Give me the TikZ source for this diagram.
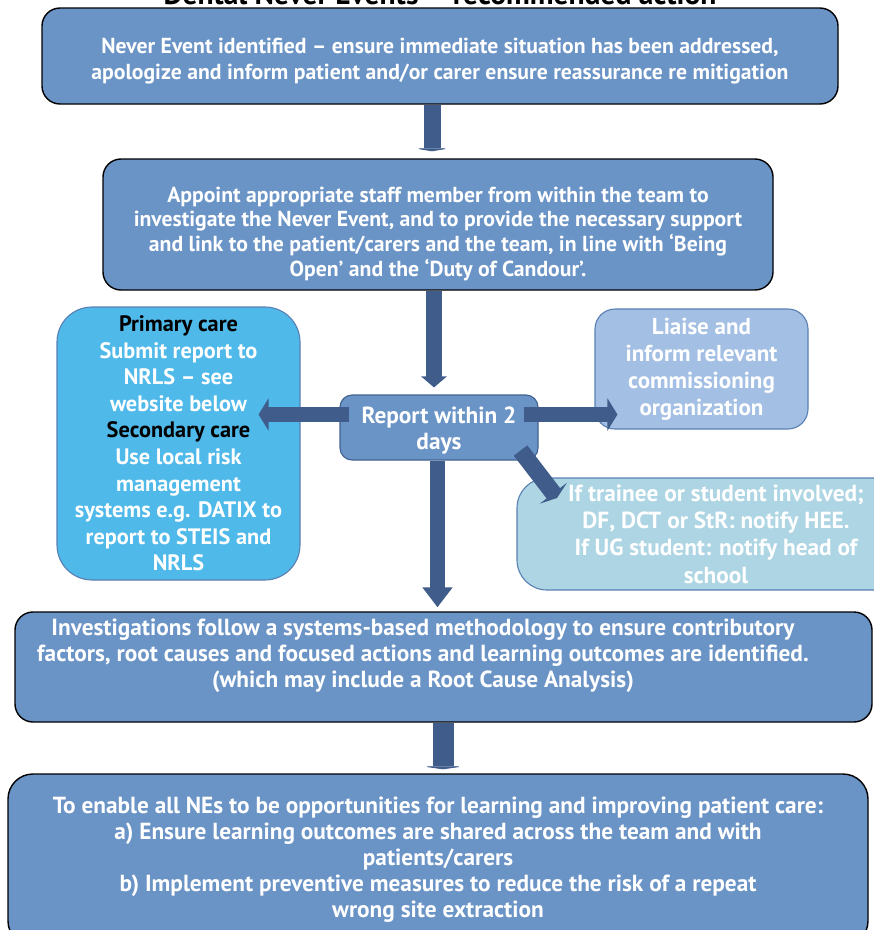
\documentclass[tikz,border=0pt]{standalone}
\usepackage{fontspec}
\setmainfont{PT Sans}
\usepackage{xcolor}
\usepackage{tikz}
\usetikzlibrary{arrows.meta}
\definecolor{boxblue}{HTML}{6A93C6}
\definecolor{boxline}{HTML}{41628F}
\definecolor{skyblue}{HTML}{4FB9EA}
\definecolor{paleblue}{HTML}{A3BFE4}
\definecolor{tealblue}{HTML}{ADD5E3}
\definecolor{sideline}{HTML}{5A7FB2}
\definecolor{arrowblue}{HTML}{3F5C8A}

\begin{document}
\begin{tikzpicture}[x=1pt, y=-1pt, font=\bfseries\fontsize{23.3}{26}\selectfont,
    main/.style = {draw=black, line width=1.4pt, rounded corners=18pt, fill=boxblue, text=white, align=center, inner sep=0pt},
    side/.style = {draw=sideline, line width=1.1pt, text=white, align=center, inner sep=0pt},
    fat/.style = {draw=arrowblue, fill=arrowblue}]
    \useasboundingbox (0,0) rectangle (874,930);

    \node[font=\bfseries\fontsize{29.5}{32}\selectfont, anchor=base] (title) at (440,4) {Dental Never Events – recommended action};

    \node[main, minimum width=796pt, minimum height=96pt, font=\bfseries\fontsize{21.7}{26}\selectfont] (1) at (440,56) {\rule{0pt}{26pt}Never Event identified – ensure immediate situation has been addressed,\\apologize and inform patient and/or carer ensure reassurance re mitigation};
    \node[main, minimum width=670pt, minimum height=131pt, font=\bfseries\fontsize{21.7}{24.7}\selectfont] (2) at (438,224.5) {\rule{0pt}{34pt}Appoint appropriate staff member from within the team to\\investigate the Never Event, and to provide the necessary support\\and link to the patient/carers and the team, in line with ‘Being\\Open’ and the ‘Duty of Candour’.};
    \node[side, fill=skyblue, draw=sideline, rounded corners=35pt, minimum width=243pt, minimum height=273pt, font=\bfseries\fontsize{22.3}{26.6}\selectfont] (3) at (178.5,443.5) {\textcolor{black}{Primary care}\\Submit report to\\NRLS – see\\website below\\\textcolor{black}{Secondary care}\\Use local risk\\management\\systems e.g. DATIX to\\report to STEIS and\\NRLS};
    \node[side, fill=boxblue, draw=boxline, rounded corners=12pt, minimum width=198pt, minimum height=65pt] (4) at (439,427.5) {\rule{0pt}{23.5pt}Report within 2\\days};
    \node[side, fill=paleblue, rounded corners=20pt, minimum width=213pt, minimum height=120pt, font=\bfseries\fontsize{23}{27}\selectfont] (5) at (701.5,369) {Liaise and\\inform relevant\\commissioning\\organization};
    \node[side, fill=tealblue, rounded corners=30pt, minimum width=398pt, minimum height=112pt, font=\bfseries\fontsize{23.3}{27.3}\selectfont] (6) at (716,534) {If trainee or student involved;\\DF, DCT or StR: notify HEE.\\If UG student: notify head of\\school};
    \node[main, minimum width=857pt, minimum height=110pt] (7) at (443.5,667) {};
    \node[text=white, align=center] (7t) at (423,656) {Investigations follow a systems-based methodology to ensure contributory\\factors, root causes and focused actions and learning outcomes are identified.\\(which may include a Root Cause Analysis)};
    \node[main, rounded corners=25pt, minimum width=860pt, minimum height=172pt] (8) at (438,860) {To enable all NEs to be opportunities for learning and improving patient care:\\a) Ensure learning outcomes are shared across the team and with\\patients/carers\\b) Implement preventive measures to reduce the risk of a repeat\\wrong site extraction};

    \coordinate (d) at (557,498);

    \draw[fat, line width=17pt, -{Triangle[width=35pt,length=3pt]}, shorten >=7pt] ([xshift=-8pt]1.south) -- ([xshift=-6pt]2.north);
    \draw[fat, line width=16pt, -{Triangle[width=25pt,length=11pt]}, shorten >=7pt] ([xshift=-4pt]2.south) -- ([xshift=-5pt]4.north);
    \draw[fat, line width=15pt, -{Triangle[width=32pt,length=10pt]}, shorten <=-10pt, shorten >=-42pt] ([yshift=13pt]4.west) -- ([yshift=13pt]4.west -| 3.east);
    \draw[fat, line width=15pt, -{Triangle[width=32pt,length=10pt]}, shorten <=-15pt, shorten >=-23pt] ([yshift=13pt]4.east) -- ([yshift=13pt]4.east -| 5.west);
    \draw[fat, line width=17pt, -{Triangle[width=34pt,length=6pt]}] ([xshift=-18pt,yshift=10pt]4.south east) -- (d);
    \draw[fat, line width=15pt, -{Triangle[width=29pt,length=20pt]}, shorten >=4pt] ([xshift=-1.5pt]4.south) -- ([xshift=-6pt]7.north);
    \draw[fat, line width=21pt, -{Triangle[width=42pt,length=3pt]}, shorten >=4pt] ([xshift=-0.5pt]7.south) -- ([xshift=5pt]8.north);

\end{tikzpicture}
\end{document}
